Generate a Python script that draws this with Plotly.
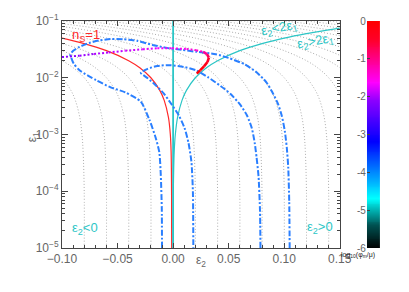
import numpy as np
import plotly.graph_objects as go

# ---------------- data ----------------
X_TICKS = [-0.10, -0.05, 0.00, 0.05, 0.10, 0.15]
X_TICK_LABELS = ["\u22120.10", "\u22120.05", "0.00", "0.05", "0.10", "0.15"]
Y_TICKS = [1e-5, 1e-4, 1e-3, 1e-2, 1e-1]
Y_TICK_LABELS = ["10<sup>\u22125</sup>", "10<sup>\u22124</sup>", "10<sup>\u22123</sup>",
                 "10<sup>\u22122</sup>", "10<sup>\u22121</sup>"]
CB_TICKS = [0, -1, -2, -3, -4, -5, -6]
CB_TICK_LABELS = ["0", "-1", "-2", "-3", "-4", "-5", "-6"]

# gray dotted contours: common eps1 sampling, one eps2 list per contour
CONTOUR_EPS1 = [1e-5, 1e-4, 5e-4, 1e-3, 2e-3, 4e-3, 6e-3, 0.01, 0.015, 0.02,
                0.03, 0.04, 0.05, 0.06, 0.07, 0.08, 0.09, 0.1]
CONTOUR_EPS2 = [
    [-0.080, -0.080, -0.081, -0.082, -0.084, -0.088, -0.092, -0.100, -0.110, -0.120, -0.140, -0.160, -0.180, -0.200, -0.220, -0.240, -0.260, -0.280],
    [-0.060, -0.060, -0.061, -0.062, -0.064, -0.068, -0.072, -0.080, -0.090, -0.100, -0.120, -0.140, -0.160, -0.180, -0.200, -0.220, -0.240, -0.260],
    [-0.040, -0.040, -0.041, -0.042, -0.044, -0.048, -0.052, -0.060, -0.070, -0.080, -0.100, -0.120, -0.140, -0.160, -0.180, -0.200, -0.220, -0.240],
    [-0.020, -0.020, -0.021, -0.022, -0.024, -0.028, -0.032, -0.040, -0.050, -0.060, -0.080, -0.100, -0.120, -0.140, -0.160, -0.180, -0.200, -0.220],
    [0.020, 0.020, 0.019, 0.018, 0.016, 0.012, 0.008, 0.000, -0.010, -0.020, -0.040, -0.060, -0.080, -0.100, -0.120, -0.140, -0.160, -0.180],
    [0.040, 0.040, 0.039, 0.038, 0.036, 0.032, 0.028, 0.020, 0.010, 0.000, -0.020, -0.040, -0.060, -0.080, -0.100, -0.120, -0.140, -0.160],
    [0.060, 0.060, 0.059, 0.058, 0.056, 0.052, 0.048, 0.040, 0.030, 0.020, 0.000, -0.020, -0.040, -0.060, -0.080, -0.100, -0.120, -0.140],
    [0.080, 0.080, 0.079, 0.078, 0.076, 0.072, 0.068, 0.060, 0.050, 0.040, 0.020, 0.000, -0.020, -0.040, -0.060, -0.080, -0.100, -0.120],
    [0.100, 0.100, 0.099, 0.098, 0.096, 0.092, 0.088, 0.080, 0.070, 0.060, 0.040, 0.020, 0.000, -0.020, -0.040, -0.060, -0.080, -0.100],
    [0.120, 0.120, 0.119, 0.118, 0.116, 0.112, 0.108, 0.100, 0.090, 0.080, 0.060, 0.040, 0.020, 0.000, -0.020, -0.040, -0.060, -0.080],
    [0.140, 0.140, 0.139, 0.138, 0.136, 0.132, 0.128, 0.120, 0.110, 0.100, 0.080, 0.060, 0.040, 0.020, 0.000, -0.020, -0.040, -0.060],
    [0.160, 0.160, 0.159, 0.158, 0.156, 0.152, 0.148, 0.140, 0.130, 0.120, 0.100, 0.080, 0.060, 0.040, 0.020, 0.000, -0.020, -0.040],
    [0.180, 0.180, 0.179, 0.178, 0.176, 0.172, 0.168, 0.160, 0.150, 0.140, 0.120, 0.100, 0.080, 0.060, 0.040, 0.020, 0.000, -0.020],
    [0.200, 0.200, 0.199, 0.198, 0.196, 0.192, 0.188, 0.180, 0.170, 0.160, 0.140, 0.120, 0.100, 0.080, 0.060, 0.040, 0.020, 0.000],
    [0.220, 0.220, 0.219, 0.218, 0.216, 0.212, 0.208, 0.200, 0.190, 0.180, 0.160, 0.140, 0.120, 0.100, 0.080, 0.060, 0.040, 0.020],
    [0.240, 0.240, 0.239, 0.238, 0.236, 0.232, 0.228, 0.220, 0.210, 0.200, 0.180, 0.160, 0.140, 0.120, 0.100, 0.080, 0.060, 0.040],
    [0.260, 0.260, 0.259, 0.258, 0.256, 0.252, 0.248, 0.240, 0.230, 0.220, 0.200, 0.180, 0.160, 0.140, 0.120, 0.100, 0.080, 0.060],
    [0.280, 0.280, 0.279, 0.278, 0.276, 0.272, 0.268, 0.260, 0.250, 0.240, 0.220, 0.200, 0.180, 0.160, 0.140, 0.120, 0.100, 0.080],
    [0.300, 0.300, 0.299, 0.298, 0.296, 0.292, 0.288, 0.280, 0.270, 0.260, 0.240, 0.220, 0.200, 0.180, 0.160, 0.140, 0.120, 0.100],
    [0.320, 0.320, 0.319, 0.318, 0.316, 0.312, 0.308, 0.300, 0.290, 0.280, 0.260, 0.240, 0.220, 0.200, 0.180, 0.160, 0.140, 0.120],
    [0.340, 0.340, 0.339, 0.338, 0.336, 0.332, 0.328, 0.320, 0.310, 0.300, 0.280, 0.260, 0.240, 0.220, 0.200, 0.180, 0.160, 0.140],
]

# red n_S = 1 line
NS1_EPS2 = [-0.0013, -0.0014, -0.0018, -0.0025, -0.0042, -0.008, -0.012, -0.020, -0.030, -0.040, -0.060, -0.080, -0.100, -0.120]
NS1_EPS1 = [1e-5, 1e-4, 5e-4, 1e-3, 2e-3, 4e-3, 6e-3, 0.01, 0.015, 0.02, 0.03, 0.04, 0.05, 0.06]

# cyan eps2 = 2 eps1 line
CYAN_EPS2 = [0.00002, 0.0002, 0.001, 0.002, 0.004, 0.008, 0.012, 0.020, 0.030, 0.040, 0.060, 0.080, 0.100, 0.120, 0.140, 0.160]
CYAN_EPS1 = [1e-5, 1e-4, 5e-4, 1e-3, 2e-3, 4e-3, 6e-3, 0.01, 0.015, 0.02, 0.03, 0.04, 0.05, 0.06, 0.07, 0.08]
# cyan eps2 = 0 line
VERT_EPS2 = [0.0, 0.0]
VERT_EPS1 = [1e-5, 0.1]

# blue dash-dot contour, outer
BLUE_A_EPS2 = [-0.010, -0.0102, -0.0111, -0.0124, -0.0157, -0.0212, -0.0291, -0.0431, -0.0562, -0.0694,
               -0.0842, -0.0895, -0.0917, -0.0926, -0.0899, -0.0842, -0.0755, -0.0667, -0.0562, -0.0448,
               -0.0317, -0.0186, -0.0054, 0.0077, 0.0208, 0.0384, 0.0497, 0.0646, 0.0751, 0.0838,
               0.0891, 0.0943, 0.0979, 0.1005, 0.1023, 0.1036, 0.1045, 0.1049]
BLUE_A_EPS1 = [1.0e-5, 5.06e-5, 1.95e-4, 4.84e-4, 8.77e-4, 0.00179, 0.0038, 0.00554, 0.00676, 0.0091,
               0.01351, 0.01783, 0.02264, 0.0255, 0.0299, 0.035, 0.041, 0.0453, 0.0481, 0.0477,
               0.0444, 0.0379, 0.0336, 0.0311, 0.0287, 0.026, 0.0224, 0.0172, 0.01248, 0.0084,
               0.00565, 0.00351, 0.0021, 0.00116, 0.00059, 0.000267, 6.7e-5, 1e-5]
# blue dash-dot contour, inner
BLUE_B_EPS2 = [0.0786, 0.0782, 0.0769, 0.0751, 0.0734, 0.0708, 0.0664, 0.0602, 0.0515, 0.0427,
               0.0313, 0.0208, 0.0095, -0.0028, -0.0142, -0.0229, -0.0291,
               -0.0229, -0.0159, -0.0089, -0.0019, 0.0051, 0.0103, 0.0138, 0.0165, 0.0178, 0.0182]
BLUE_B_EPS1 = [1e-5, 4.49e-5, 1.8e-4, 3.97e-4, 7.2e-4, 0.0013, 0.00218, 0.00338, 0.00522, 0.00717,
               0.01024, 0.01351, 0.01552, 0.01667, 0.01615, 0.01435, 0.01225,
               0.00984, 0.00746, 0.00543, 0.00351, 0.00218, 0.0013, 0.00072, 0.000326, 9.9e-5, 1e-5]

# trajectory coloured by log10(phi_m/mu): dotted part and solid part
TRAJ_DOT_EPS2 = [-0.100, -0.0842, -0.0711, -0.058, -0.0431, -0.0273, -0.0142, -0.0011, 0.0121, 0.0208, 0.0270]
TRAJ_DOT_EPS1 = [0.0231, 0.0245, 0.0262, 0.0279, 0.0299, 0.0317, 0.0332, 0.0332, 0.0321, 0.0305, 0.0287]
TRAJ_DOT_LOGPHI = [-2.2, -2.1, -2.0, -1.9, -1.85, -1.8, -1.7, -1.6, -1.5, -1.4, -1.3]
TRAJ_SOLID_EPS2 = [0.0270, 0.0305, 0.0322, 0.0309, 0.0278, 0.0243, 0.0213]
TRAJ_SOLID_EPS1 = [0.0287, 0.026, 0.0226, 0.0189, 0.01585, 0.0135, 0.0118]
TRAJ_SOLID_LOGPHI = [-1.3, -0.9, -0.6, -0.4, -0.2, -0.1, 0.0]

# ---------------- style ----------------
CB_SCALE = [
    [0.00, "rgb(0,0,0)"],
    [0.10, "rgb(0,80,80)"],
    [0.22, "rgb(0,255,255)"],
    [0.30, "rgb(0,170,255)"],
    [0.47, "rgb(0,0,255)"],
    [0.65, "rgb(140,0,255)"],
    [0.73, "rgb(255,0,255)"],
    [0.83, "rgb(255,0,140)"],
    [0.92, "rgb(255,0,40)"],
    [1.00, "rgb(255,0,0)"],
]


def scale_color(v):
    t = min(max((v + 6.0) / 6.0, 0.0), 1.0)
    for (t0, c0), (t1, c1) in zip(CB_SCALE[:-1], CB_SCALE[1:]):
        if t0 <= t <= t1:
            a = (t - t0) / (t1 - t0) if t1 > t0 else 0
            p0 = [float(s) for s in c0[4:-1].split(",")]
            p1 = [float(s) for s in c1[4:-1].split(",")]
            p = [round(x0 + a * (x1 - x0)) for x0, x1 in zip(p0, p1)]
            return "rgb(%d,%d,%d)" % tuple(p)
    return CB_SCALE[-1][1]


AX = "#444444"
TXT = "#666666"
CYAN = "#2cc6c6"
BLUE = "#2a7fff"
RED = "#ff2a2a"
FONT = "Liberation Sans, Arial, sans-serif"

fig = go.Figure()

for e2 in CONTOUR_EPS2:
    fig.add_trace(go.Scatter(x=e2, y=CONTOUR_EPS1, mode="lines",
                             line=dict(color="#ababab", width=1, dash="1px,2px", shape="spline"),
                             hoverinfo="skip", showlegend=False))

fig.add_trace(go.Scatter(x=NS1_EPS2, y=NS1_EPS1, mode="lines",
                         line=dict(color=RED, width=1.2, shape="spline"), showlegend=False))
fig.add_trace(go.Scatter(x=VERT_EPS2, y=VERT_EPS1, mode="lines",
                         line=dict(color=CYAN, width=1.8), showlegend=False))
fig.add_trace(go.Scatter(x=CYAN_EPS2, y=CYAN_EPS1, mode="lines",
                         line=dict(color=CYAN, width=1.2, shape="spline"), showlegend=False))

for ex, ey in [(BLUE_A_EPS2, BLUE_A_EPS1), (BLUE_B_EPS2, BLUE_B_EPS1)]:
    fig.add_trace(go.Scatter(x=ex, y=ey, mode="lines",
                             line=dict(color=BLUE, width=2, dash="6px,2px,2px,2px", shape="spline",
                                       smoothing=0.6),
                             showlegend=False))

for i in range(len(TRAJ_DOT_EPS2) - 1):
    c = scale_color(0.5 * (TRAJ_DOT_LOGPHI[i] + TRAJ_DOT_LOGPHI[i + 1]))
    fig.add_trace(go.Scatter(x=TRAJ_DOT_EPS2[i:i + 2], y=TRAJ_DOT_EPS1[i:i + 2], mode="lines",
                             line=dict(color=c, width=2, dash="2px,2px"), showlegend=False))
for i in range(len(TRAJ_SOLID_EPS2) - 1):
    c = scale_color(0.5 * (TRAJ_SOLID_LOGPHI[i] + TRAJ_SOLID_LOGPHI[i + 1]))
    fig.add_trace(go.Scatter(x=TRAJ_SOLID_EPS2[i:i + 2], y=TRAJ_SOLID_EPS1[i:i + 2], mode="lines",
                             line=dict(color=c, width=2.6), showlegend=False))

# colour bar drawn as a heat map on its own axes
cb_levels = np.linspace(-6, 0, 241)
fig.add_trace(go.Heatmap(x=[0], y=cb_levels, z=[[v] for v in cb_levels], zmin=-6, zmax=0,
                         colorscale=CB_SCALE, showscale=False, zsmooth="best",
                         xaxis="x2", yaxis="y2", hoverinfo="skip"))

minor_y = [m * 10.0 ** e for e in range(-5, -1) for m in range(2, 10)]

fig.update_layout(
    width=409, height=292, autosize=False,
    margin=dict(l=62, r=15, t=15, b=44),
    paper_bgcolor="white", plot_bgcolor="white",
    font=dict(family=FONT, size=12, color=TXT),
    xaxis=dict(domain=[0, 0.86], range=[-0.10, 0.15], tickvals=X_TICKS, ticktext=X_TICK_LABELS,
               ticks="inside", ticklen=5, tickcolor=AX, showline=True, linecolor=AX, linewidth=1,
               mirror="allticks", showgrid=False, zeroline=False,
               tickfont=dict(size=12, color=TXT),
               minor=dict(dtick=0.01, tick0=0, ticks="inside", ticklen=3, tickcolor=AX)),
    yaxis=dict(type="log", range=[-5, -1], tickvals=Y_TICKS, ticktext=Y_TICK_LABELS,
               ticks="inside", ticklen=6, tickcolor=AX, showline=True, linecolor=AX, linewidth=1,
               mirror="allticks", showgrid=False, zeroline=False,
               tickfont=dict(size=12, color=TXT),
               minor=dict(tickvals=minor_y, ticks="inside", ticklen=3, tickcolor=AX)),
    xaxis2=dict(domain=[0.944, 0.985], anchor="y2", range=[-0.5, 0.5], showticklabels=False,
                showgrid=False, zeroline=False, ticks="", showline=False),
    yaxis2=dict(domain=[0, 1], anchor="x2", range=[-6, 0], side="left", tickvals=CB_TICKS,
                ticktext=CB_TICK_LABELS, ticks="inside", ticklen=3, tickcolor=AX,
                showgrid=False, zeroline=False, showline=False,
                tickfont=dict(size=10, color=TXT)),
    showlegend=False,
)

ann = [
    dict(x=-0.078, y=-1.25, text="n<sub>S</sub>=1", font=dict(color=RED, size=13)),
    dict(x=-0.079, y=-4.657, text="\u03b5<sub>2</sub>&lt;0", font=dict(color=CYAN, size=13)),
    dict(x=0.132, y=-4.64, text="\u03b5<sub>2</sub>&gt;0", font=dict(color=CYAN, size=13)),
    dict(x=0.0953, y=-1.138, text="\u03b5<sub>2</sub>&lt;2\u03b5<sub>1</sub>", textangle=-11,
         font=dict(color=CYAN, size=13)),
    dict(x=0.1285, y=-1.361, text="\u03b5<sub>2</sub>&gt;2\u03b5<sub>1</sub>", textangle=-11,
         font=dict(color=CYAN, size=13)),
]
for a in ann:
    fig.add_annotation(xref="x", yref="y", showarrow=False, **a)

fig.add_annotation(xref="paper", yref="paper", x=-0.120, y=0.489, text="\u03b5<sub>1</sub>",
                   textangle=-90, showarrow=False, font=dict(size=12, color=TXT))
fig.add_annotation(xref="paper", yref="paper", x=0.4307, y=-0.103, text="\u03b5<sub>2</sub>",
                   showarrow=False, font=dict(size=12, color=TXT))
fig.add_annotation(xref="paper", yref="paper", x=0.976, y=-0.056,
                   text="log<sub>10</sub>(\u03c6<sub>m</sub>/\u03bc)", showarrow=False,
                   font=dict(size=7, color="#222222"))

fig.write_html("out.html",
               config=dict(displayModeBar=False, responsive=False, staticPlot=True),
               post_script="document.body.style.margin='0px';document.body.style.overflow='hidden';")
